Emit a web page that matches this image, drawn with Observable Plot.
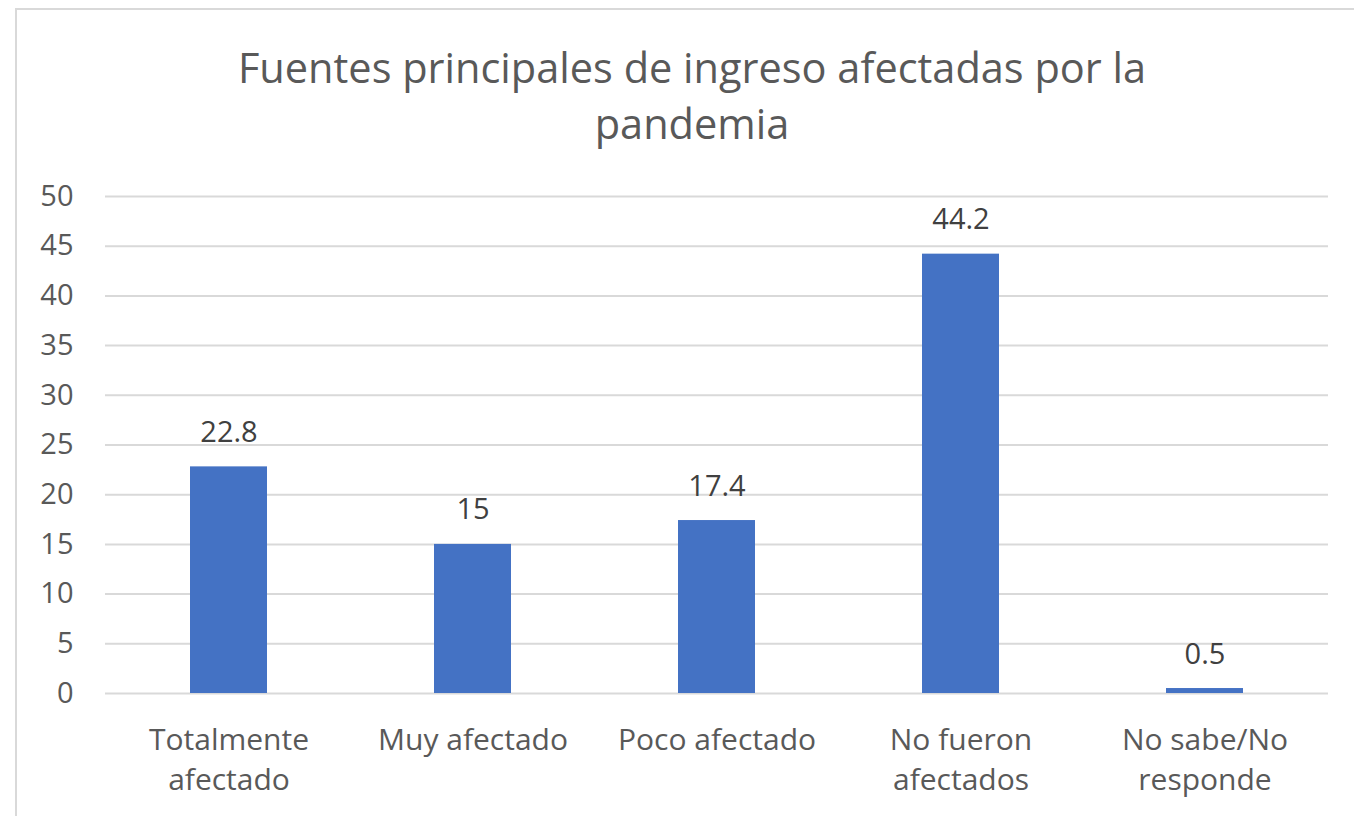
<!DOCTYPE html>
<html>
<head>
<meta charset="utf-8">
<script src="https://cdn.jsdelivr.net/npm/d3@7"></script>
<script src="https://cdn.jsdelivr.net/npm/@observablehq/plot@0.6"></script>
<style>
  html, body { margin: 0; padding: 0; background: #fff; overflow: hidden; width: 1354px; height: 816px; }
  #frame { position: absolute; left: 15px; top: 8px; width: 1400px; height: 900px; border: 2px solid #d9d9d9; box-sizing: border-box; }
  #title { position: absolute; left: 0; width: 1384px; top: 39px; text-align: center; font-family: "Open Sans", sans-serif; font-size: 41.5px; line-height: 56px; color: #595959; }
  #chart { position: absolute; left: 0; top: 0; }
</style>
</head>
<body>
<div id="frame"></div>
<div id="title">Fuentes principales de ingreso afectadas por la<br>pandemia</div>
<div id="chart"></div>
<script>
const categories = ["Totalmente afectado", "Muy afectado", "Poco afectado", "No fueron afectados", "No sabe/No responde"];
const tickLabels = ["Totalmente\nafectado", "Muy afectado", "Poco afectado", "No fueron\nafectados", "No sabe/No\nresponde"];
const values = [22.8, 15, 17.4, 44.2, 0.5];
const yTicks = [0, 5, 10, 15, 20, 25, 30, 35, 40, 45, 50];

const data = categories.map((c, i) => ({category: c, value: values[i]}));
const labelOf = new Map(categories.map((c, i) => [c, tickLabels[i]]));

const chart = Plot.plot({
  width: 1354,
  height: 816,
  marginTop: 196,
  marginBottom: 123,
  marginLeft: 105,
  marginRight: 26,
  style: {fontFamily: "'Open Sans', sans-serif", fontSize: "29px", background: "transparent"},
  x: {domain: categories, paddingInner: 0.685, paddingOuter: 0.3425},
  y: {domain: [0, 50]},
  marks: [
    Plot.ruleY(yTicks, {stroke: "#d9d9d9", strokeWidth: 2}),
    Plot.barY(data, {x: "category", y: "value", fill: "#4472C4"}),
    Plot.text(data, {x: "category", y: "value", text: d => String(d.value), lineAnchor: "bottom", dy: -25, fill: "#404040", fontSize: 29}),
    Plot.axisY({ticks: yTicks, tickSize: 0, tickPadding: 32, label: null, fill: "#595959", fontSize: 29}),
    Plot.axisX({tickSize: 0, tickPadding: 28, label: null, fill: "#595959", fontSize: 30, lineHeight: 1.333, tickFormat: d => labelOf.get(d)})
  ]
});
document.getElementById("chart").appendChild(chart);
</script>
</body>
</html>
